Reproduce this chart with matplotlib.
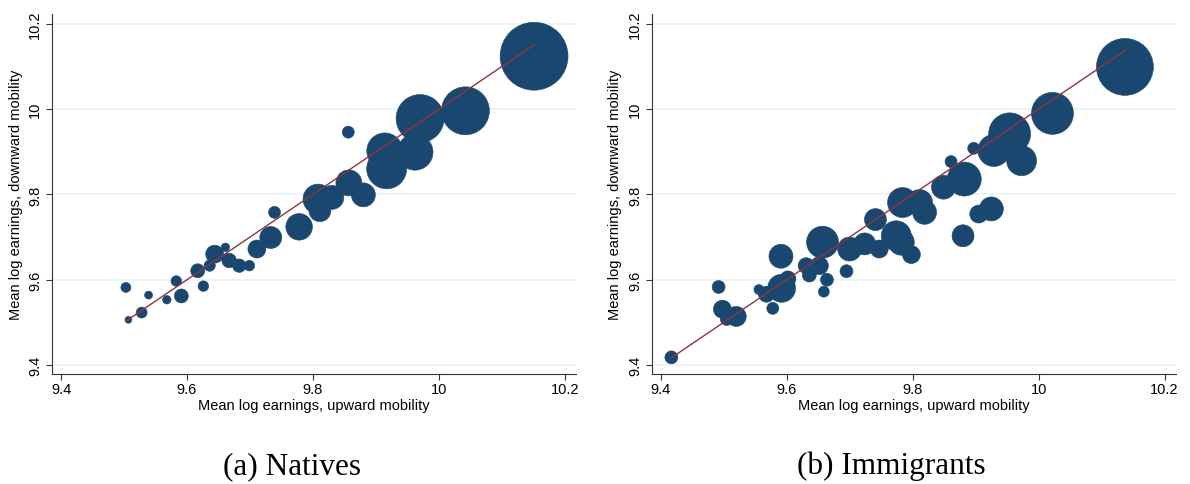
import matplotlib
matplotlib.use('Agg')
import matplotlib.pyplot as plt

# Natives: mean log earnings (upward, downward mobility) and cell weight
natives_up = [9.503, 9.507, 9.528, 9.539, 9.568, 9.583, 9.591, 9.626, 9.617, 9.644,
              9.636, 9.661, 9.667, 9.683, 9.699, 9.711, 9.733, 9.739, 9.778, 9.808,
              9.830, 9.811, 9.857, 9.880, 9.856, 9.914, 9.917, 9.962, 9.970, 10.042,
              10.151]
natives_down = [9.582, 9.506, 9.523, 9.564, 9.553, 9.597, 9.562, 9.585, 9.621, 9.660,
                9.633, 9.676, 9.645, 9.633, 9.633, 9.672, 9.699, 9.758, 9.724, 9.789,
                9.793, 9.762, 9.827, 9.799, 9.946, 9.902, 9.860, 9.899, 9.978, 9.996,
                10.124]
natives_w = [25, 12, 30, 16, 18, 28, 49, 28, 49, 81,
             32, 18, 53, 45, 28, 81, 121, 36, 177, 225,
             144, 121, 169, 144, 36, 324, 400, 324, 576, 576,
             1156]

# Immigrants
immig_up = [9.417, 9.492, 9.498, 9.505, 9.520, 9.556, 9.578, 9.568, 9.592, 9.602,
            9.591, 9.636, 9.631, 9.664, 9.659, 9.695, 9.652, 9.657, 9.700, 9.724,
            9.747, 9.741, 9.774, 9.782, 9.798, 9.784, 9.811, 9.819, 9.849, 9.882,
            9.861, 9.880, 9.905, 9.925, 9.897, 9.929, 9.954, 9.973, 10.022, 10.137]
immig_down = [9.418, 9.583, 9.531, 9.508, 9.514, 9.577, 9.533, 9.566, 9.580, 9.602,
              9.655, 9.611, 9.633, 9.600, 9.572, 9.620, 9.633, 9.688, 9.672, 9.684,
              9.672, 9.741, 9.703, 9.688, 9.659, 9.781, 9.781, 9.758, 9.817, 9.836,
              9.877, 9.703, 9.754, 9.766, 9.908, 9.903, 9.942, 9.879, 9.990, 10.099]
immig_w = [42, 42, 81, 42, 100, 25, 36, 64, 196, 64,
           144, 49, 64, 42, 30, 42, 81, 256, 144, 121,
           81, 121, 225, 169, 81, 225, 169, 144, 144, 289,
           36, 121, 81, 144, 36, 256, 441, 225, 441, 812]

panels = [
    ('(a) Natives', natives_up, natives_down, natives_w),
    ('(b) Immigrants', immig_up, immig_down, immig_w),
]

navy = '#1a476f'
maroon = '#90353b'
grid_col = '#eaf2f3'

fig = plt.figure(figsize=(11.9, 4.85), dpi=100)
plt.rcParams['font.family'] = ['Liberation Sans', 'DejaVu Sans']

ax_left = [0.0437, 0.5476]
caption_x = [292 / 1190, 891 / 1190]

for i, (cap, xs, ys, ws) in enumerate(panels):
    ax = fig.add_axes([ax_left[i], 0.2268, 0.4403, 0.7423])
    sizes = [2.07 * w for w in ws]
    ax.scatter(xs, ys, s=sizes, color=navy, edgecolors=navy, linewidths=0.4, zorder=3)
    lo, hi = min(xs), max(xs)
    ax.plot([lo, hi], [lo, hi], color=maroon, lw=1.0, zorder=4)

    ax.set_xlim(9.3857, 10.2175)
    ax.set_ylim(9.379, 10.223)
    ax.set_xticks([9.4, 9.6, 9.8, 10, 10.2])
    ax.set_xticklabels(['9.4', '9.6', '9.8', '10', '10.2'])
    ax.set_yticks([9.4, 9.6, 9.8, 10, 10.2])
    ax.set_yticklabels(['9.4', '9.6', '9.8', '10', '10.2'], rotation=90, va='center')
    ax.yaxis.grid(True, color=grid_col, lw=1.2, zorder=0)
    ax.set_axisbelow(True)
    for side in ['top', 'right']:
        ax.spines[side].set_visible(False)
    for side in ['left', 'bottom']:
        ax.spines[side].set_color('#333333')
        ax.spines[side].set_linewidth(0.8)
    ax.tick_params(direction='out', length=4, width=0.8, color='#333333',
                   labelsize=10.5, pad=2)
    ax.tick_params(axis='y', pad=3)
    ax.set_xlabel('Mean log earnings, upward mobility', fontsize=10.5, labelpad=1)
    ax.set_ylabel('Mean log earnings, downward mobility', fontsize=10.5, labelpad=4)

    fig.text(caption_x[i], 1 - 466.7 / 485, cap, ha='center', va='center',
             fontsize=22.5, family=['Liberation Serif', 'DejaVu Serif'])

fig.savefig('out.png', dpi=100)
